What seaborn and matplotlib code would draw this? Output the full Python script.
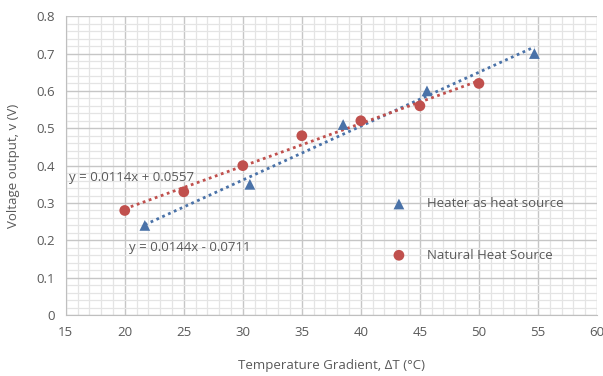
import numpy as np
import pandas as pd
import matplotlib
matplotlib.use("Agg")
import matplotlib.pyplot as plt
from matplotlib.ticker import MultipleLocator
import seaborn as sns

# heater as heat source
heater_dt = [21.7, 30.6, 38.5, 45.6, 54.7]
heater_v = [0.24, 0.35, 0.51, 0.60, 0.70]

# natural heat source
natural_dt = [20, 25, 30, 35, 40, 45, 50]
natural_v = [0.28, 0.33, 0.40, 0.48, 0.52, 0.56, 0.62]

heater_label = "Heater as heat source"
natural_label = "Natural Heat Source"
heater_eq = "y = 0.0144x - 0.0711"
natural_eq = "y = 0.0114x + 0.0557"

blue = "#4a72a8"
red = "#c0504d"
txt = "#595959"

sns.set_style("white")
plt.rcParams["font.family"] = ["Open Sans", "DejaVu Sans"]

heater = pd.DataFrame({"dt": heater_dt, "v": heater_v})
natural = pd.DataFrame({"dt": natural_dt, "v": natural_v})

fig, ax = plt.subplots(figsize=(6.03, 3.76), dpi=100)
fig.subplots_adjust(left=0.109, right=0.990, top=0.957, bottom=0.162)

sns.scatterplot(data=heater, x="dt", y="v", marker="^", s=60, color=blue,
                edgecolor="none", label=heater_label, ax=ax, zorder=4)
sns.scatterplot(data=natural, x="dt", y="v", marker="o", s=60, color=red,
                edgecolor="none", label=natural_label, ax=ax, zorder=4)

# trendlines
sns.regplot(data=heater, x="dt", y="v", scatter=False, ci=None, ax=ax,
            line_kws=dict(color=blue, linestyle=(0, (1, 1.3)), linewidth=2))
sns.regplot(data=natural, x="dt", y="v", scatter=False, ci=None, ax=ax,
            line_kws=dict(color=red, linestyle=(0, (1, 1.3)), linewidth=2))

ax.text(15.25, 0.367, natural_eq, color=txt, fontsize=9.5, va="center")
ax.text(20.4, 0.182, heater_eq, color=txt, fontsize=9.5, va="center")

ax.set_xlim(15, 60)
ax.set_ylim(0, 0.8)
ax.xaxis.set_major_locator(MultipleLocator(5))
ax.xaxis.set_minor_locator(MultipleLocator(1))
ax.yaxis.set_major_locator(MultipleLocator(0.1))
ax.yaxis.set_minor_locator(MultipleLocator(0.02))
ax.yaxis.set_major_formatter(matplotlib.ticker.FuncFormatter(lambda v, p: f"{v:g}"))
ax.grid(which="major", color="#c6c6c6", linewidth=1)
ax.grid(which="minor", color="#e4e4e4", linewidth=0.9)
ax.set_axisbelow(True)
for s in ax.spines.values():
    s.set_visible(False)
ax.spines["left"].set_visible(True)
ax.spines["bottom"].set_visible(True)
ax.spines["left"].set_color("#bfbfbf")
ax.spines["bottom"].set_color("#bfbfbf")
ax.tick_params(which="major", length=4, color="#bfbfbf", labelcolor=txt, labelsize=9.5)
ax.tick_params(which="minor", length=0)

ax.set_xlabel("Temperature Gradient, \u0394T (\u00b0C)", color=txt, fontsize=9.5, labelpad=15)
ax.set_ylabel("Voltage output, v (V)", color=txt, fontsize=9.5, labelpad=12)

ax.legend(loc="center left", bbox_to_anchor=(0.58, 0.286), frameon=False,
          labelspacing=2.9, handletextpad=1.15, fontsize=9.5, labelcolor=txt)

fig.savefig("out.png", dpi=100)
